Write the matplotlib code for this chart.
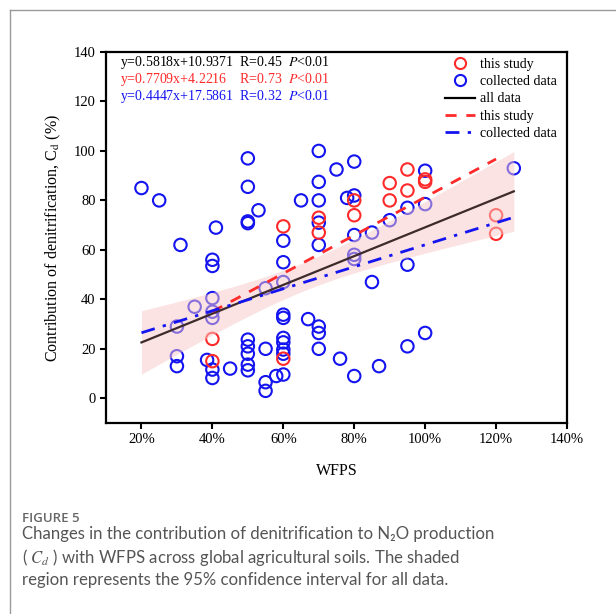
import numpy as np
import matplotlib
matplotlib.use("Agg")
import matplotlib.pyplot as plt
from matplotlib.lines import Line2D

plt.rcParams['font.family'] = ['Liberation Serif', 'DejaVu Serif']
plt.rcParams['mathtext.fontset'] = 'stix'

# ---------------- data ----------------
this_x = [40, 40, 60, 60, 70, 70, 80, 80, 90, 90, 95, 95, 100, 100, 120, 120]
this_y = [24, 15, 16, 69.5, 73, 67, 80, 74, 87, 80, 92.5, 84, 88.5, 87.5, 74, 66.5]

coll_x = [20, 25, 30, 30, 30, 31, 35, 38.5, 40, 40, 40, 40, 40, 40, 40, 41, 45,
          50, 50, 50, 50, 50, 50, 50, 50, 50, 53, 55, 55, 55, 55, 58,
          60, 60, 60, 60, 60, 60, 60, 60, 60, 60, 65, 67,
          70, 70, 70, 70, 70, 70, 70, 70, 75, 76, 78,
          80, 80, 80, 80, 80, 80, 85, 85, 87, 90, 95, 95, 95, 100, 100, 100, 125]
coll_y = [85, 80, 29, 17, 13, 62, 37, 15.5, 56, 53.5, 40.5, 35, 32.5, 11.6, 8.2, 69, 12,
          97, 85.5, 71.5, 70.8, 23.7, 21, 18, 13.6, 11.3, 76, 44.5, 20, 6.5, 3, 9,
          63.7, 55, 47, 33.8, 32.5, 24.4, 22.6, 19.7, 18, 9.6, 80, 32,
          100, 87.5, 80, 71, 62, 29, 26.4, 20, 92.5, 16, 81,
          95.7, 82, 66, 58, 56.3, 9, 67, 47, 13, 72, 77, 54, 21, 92, 78.5, 26.4, 93]

fit_all = (0.5818, 10.9371)
fit_this = (0.7709, 4.2216)
fit_coll = (0.4447, 17.5861)
range_all = (20, 125)
range_this = (40, 120)
range_coll = (20, 125)

eq_texts = ["y=0.5818x+10.9371  R=0.45  $P$<0.01",
            "y=0.7709x+4.2216    R=0.73  $P$<0.01",
            "y=0.4447x+17.5861  R=0.32  $P$<0.01"]

x_ticks = [20, 40, 60, 80, 100, 120, 140]
x_ticklabels = ["20%", "40%", "60%", "80%", "100%", "120%", "140%"]
y_ticks = [0, 20, 40, 60, 80, 100, 120, 140]

RED = '#ff2a2a'
BLUE = '#1414f0'
DARK = '#3d2b2b'

# ---------------- figure ----------------
fig = plt.figure(figsize=(6.16, 6.14), dpi=100)
ax = fig.add_axes([106/616, 1-423/614, (567-106)/616, (423-52)/614])

ax.scatter(coll_x, coll_y, s=80, facecolors='none', edgecolors=BLUE, linewidths=1.5, zorder=2)
ax.scatter(this_x, this_y, s=80, facecolors='none', edgecolors=RED, linewidths=1.5, zorder=2)

# regression lines
xa = np.linspace(*range_all, 200)
ya = fit_all[0]*xa + fit_all[1]
xt = np.linspace(*range_this, 200)
xc = np.linspace(*range_coll, 200)

# 95% confidence band for all data (around stated fit)
all_x = np.array(coll_x + this_x, dtype=float)
all_y = np.array(coll_y + this_y, dtype=float)
n = len(all_x)
resid = all_y - (fit_all[0]*all_x + fit_all[1])
s = np.sqrt(np.sum(resid**2)/(n-2))
xbar = all_x.mean()
sxx = np.sum((all_x - xbar)**2)
half = 1.99 * s * np.sqrt(1/n + (xa - xbar)**2/sxx)
ax.fill_between(xa, ya - half, ya + half, color='#f8c8c8', alpha=0.5, lw=0, zorder=3)

ax.plot(xa, ya, color=DARK, lw=1.6, zorder=4)
ax.plot(xt, fit_this[0]*xt + fit_this[1], color=RED, lw=2.0, ls=(0, (4, 3.5)), zorder=4)
ax.plot(xc, fit_coll[0]*xc + fit_coll[1], color=BLUE, lw=2.0, ls=(0, (5, 3, 1.2, 3)), zorder=4)

ax.set_xlim(10, 140)
ax.set_ylim(-10, 140)
ax.set_xticks(x_ticks)
ax.set_xticklabels(x_ticklabels)
ax.set_yticks(y_ticks)
ax.tick_params(direction='out', length=4.5, width=1.5, labelsize=10.5, pad=3)
for sp in ax.spines.values():
    sp.set_linewidth(1.6)

ax.set_xlabel("WFPS", fontsize=11.5, labelpad=12)
ax.set_ylabel("Contribution of denitrification, C$_\\mathrm{d}$ (%)", fontsize=11.5, labelpad=8)

colors = ['black', RED, BLUE]
ys = [0.973, 0.925, 0.879]
for t, c, yy in zip(eq_texts, colors, ys):
    ax.text(0.03, yy, t, transform=ax.transAxes, color=c, fontsize=10, va='center', ha='left')

handles = [
    Line2D([], [], ls='none', marker='o', mfc='none', mec=RED, mew=1.5, ms=8),
    Line2D([], [], ls='none', marker='o', mfc='none', mec=BLUE, mew=1.5, ms=8),
    Line2D([], [], color='black', lw=1.6),
    Line2D([], [], color=RED, lw=2.0, ls=(0, (4, 3.5))),
    Line2D([], [], color=BLUE, lw=2.0, ls=(0, (5, 3, 1.2, 3))),
]
labels = ["this study", "collected data", "all data", "this study", "collected data"]
ax.legend(handles, labels, loc='upper right', bbox_to_anchor=(1 - 5/461, 1.0),
          frameon=False, fontsize=10,
          handlelength=2.2, handletextpad=0.3, labelspacing=0.32,
          borderaxespad=0.2, borderpad=0.2)

# page frame
fig.add_artist(Line2D([10/616, 10/616], [0, 1-10/614], color='#9a9a9a', lw=1.0))
fig.add_artist(Line2D([10/616, 1], [1-10/614, 1-10/614], color='#9a9a9a', lw=1.0))

cap_font = ['Lato', 'DejaVu Sans']
fig.text(22/616, 1-518/614, "FIGURE 5", fontsize=9.5, color='#666666', fontweight='semibold',
         family=['Open Sans', 'DejaVu Sans'], va='center', ha='left')
cap_lines = ["Changes in the contribution of denitrification to N\u2082O production",
             "( $C_d$ ) with WFPS across global agricultural soils. The shaded",
             "region represents the 95% confidence interval for all data."]
for i, line in enumerate(cap_lines):
    fig.text(22/616, 1-(534+23*i)/614, line, fontsize=12.1, color='#555555',
             family=cap_font, va='center', ha='left')

fig.savefig("out.png", dpi=100)
